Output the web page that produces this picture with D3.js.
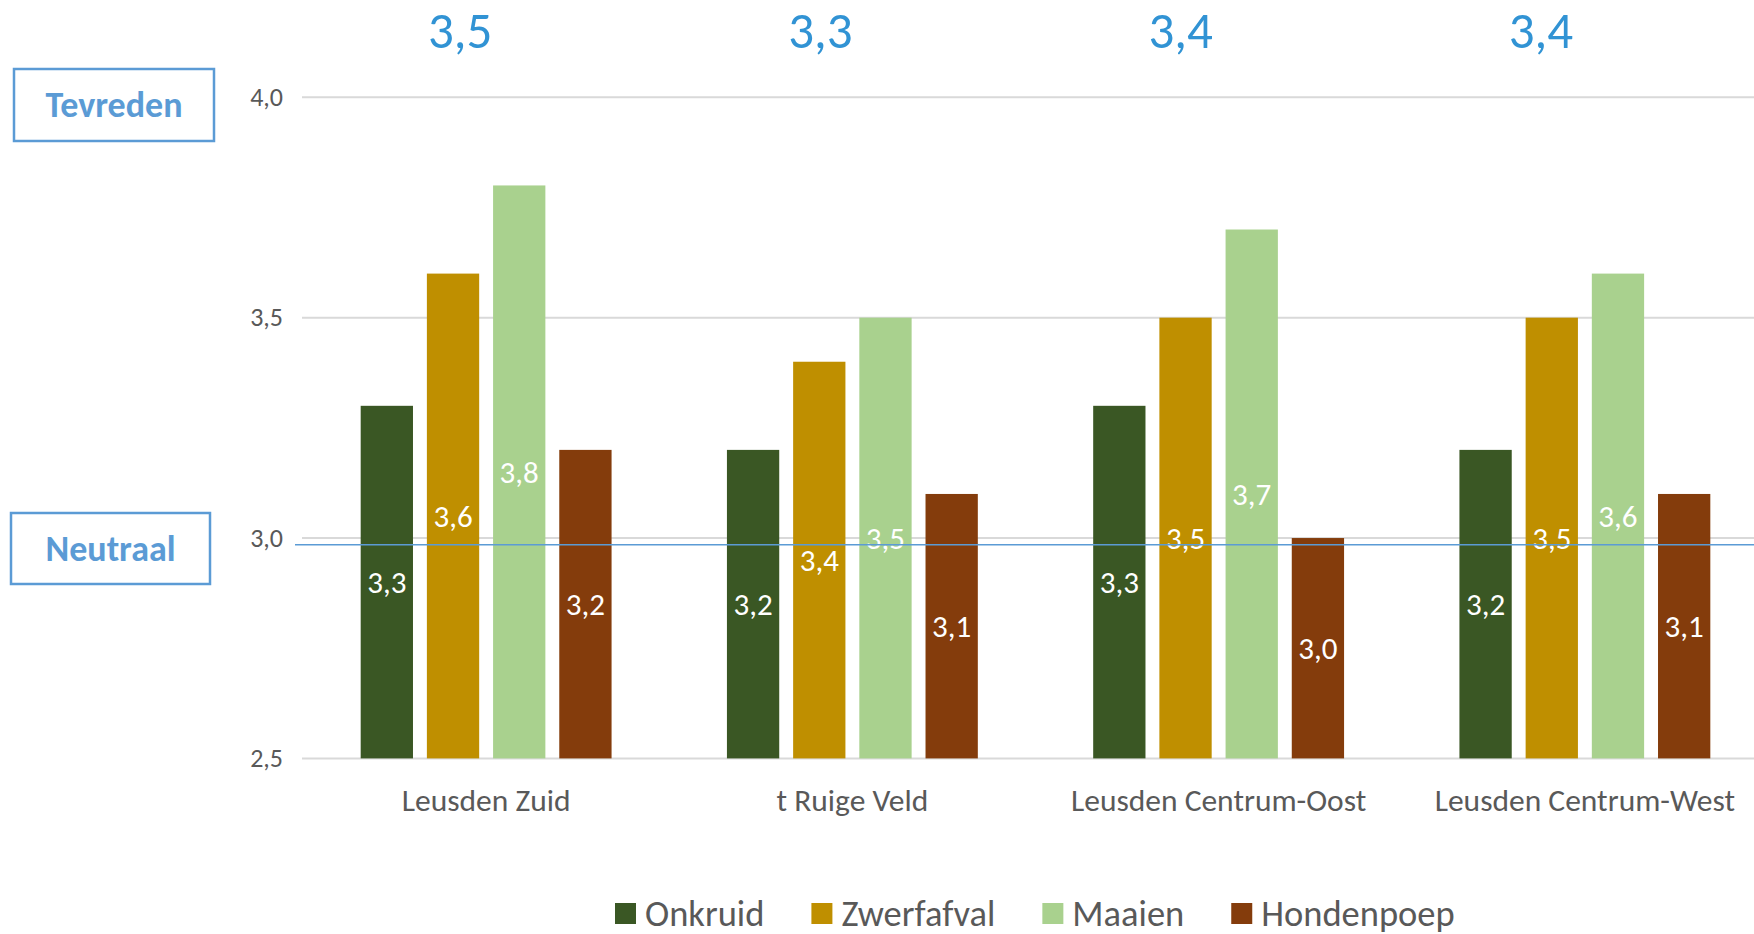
<!DOCTYPE html>
<html>
<head>
<meta charset="utf-8">
<script src="https://cdn.jsdelivr.net/npm/d3@7"></script>
<style>
  body { margin: 0; background: #fff; }
  svg { display: block; font-family: Carlito, Lato, "Open Sans", sans-serif; }
</style>
</head>
<body>
<div id="chart"></div>
<script>
// Data
const wijken = ["Leusden Zuid", "t Ruige Veld", "Leusden Centrum-Oost", "Leusden Centrum-West"];
const series = ["Onkruid", "Zwerfafval", "Maaien", "Hondenpoep"];
const onkruid = [3.3, 3.2, 3.3, 3.2];
const zwerfafval = [3.6, 3.4, 3.5, 3.5];
const maaien = [3.8, 3.5, 3.7, 3.6];
const hondenpoep = [3.2, 3.1, 3.0, 3.1];
const gemiddelde = [3.5, 3.3, 3.4, 3.4];
const yTicks = [2.5, 3.0, 3.5, 4.0];
const neutraalLijn = 2.985;

const colors = ["#3A5724", "#BF8F00", "#A9D18E", "#843C0C"];
const values = [onkruid, zwerfafval, maaien, hondenpoep];

const width = 1754;
const height = 934;

const fmt = v => v.toFixed(1).replace(".", ",");

// Scales
const x0 = d3.scaleBand()
    .domain(wijken)
    .range([303, 1768])
    .paddingInner(0.315)
    .paddingOuter(0.1575);

const x1 = d3.scaleBand()
    .domain(series)
    .range([0, x0.bandwidth()])
    .paddingInner(0.21);

const yScale = d3.scaleLinear()
    .domain([2.5, 4.0])
    .range([758.4, 97.3]);

const color = d3.scaleOrdinal().domain(series).range(colors);

const svg = d3.select("#chart")
    .append("svg")
    .attr("width", width)
    .attr("height", height);

// Gridlines
svg.append("g")
    .selectAll("line")
    .data(yTicks)
    .join("line")
    .attr("x1", 302)
    .attr("x2", width)
    .attr("y1", d => yScale(d))
    .attr("y2", d => yScale(d))
    .attr("stroke", "#D9D9D9")
    .attr("stroke-width", 2);

// Y axis labels
const yAxis = svg.append("g")
    .attr("transform", "translate(283,0)")
    .call(d3.axisLeft(yScale).tickValues(yTicks).tickSize(0).tickPadding(0).tickFormat(fmt));
yAxis.select(".domain").remove();
yAxis.selectAll("text")
    .style("font-family", "Carlito, Lato, sans-serif")
    .style("font-size", "26px")
    .attr("fill", "#595959");

// Bars
const rows = wijken.map((w, i) => ({ wijk: w, vals: series.map((s, j) => ({ key: s, value: values[j][i] })) }));

const groups = svg.append("g")
    .selectAll("g")
    .data(rows)
    .join("g")
    .attr("transform", d => `translate(${x0(d.wijk)},0)`);

groups.selectAll("rect")
    .data(d => d.vals)
    .join("rect")
    .attr("x", d => x1(d.key))
    .attr("width", x1.bandwidth())
    .attr("y", d => yScale(d.value))
    .attr("height", d => yScale(2.5) - yScale(d.value))
    .attr("fill", d => color(d.key));

// Neutral line
svg.append("line")
    .attr("x1", 295)
    .attr("x2", width)
    .attr("y1", yScale(neutraalLijn))
    .attr("y2", yScale(neutraalLijn))
    .attr("stroke", "#5B9BD5")
    .attr("stroke-width", 1.5);

// Data labels (white, centered in bar)
groups.selectAll("text")
    .data(d => d.vals)
    .join("text")
    .attr("x", d => x1(d.key) + x1.bandwidth() / 2)
    .attr("y", d => (yScale(d.value) + yScale(2.5)) / 2)
    .attr("text-anchor", "middle")
    .attr("dominant-baseline", "central")
    .attr("fill", "#fff")
    .style("font-size", "31px")
    .text(d => fmt(d.value));

// Category labels
svg.append("g")
    .selectAll("text")
    .data(wijken)
    .join("text")
    .attr("x", d => x0(d) + x0.bandwidth() / 2)
    .attr("y", 811)
    .attr("text-anchor", "middle")
    .attr("fill", "#595959")
    .style("font-size", "31.5px")
    .text(d => d);

// Average per wijk on top
svg.append("g")
    .selectAll("text")
    .data(wijken)
    .join("text")
    .attr("x", (d, i) => x0(d) + x0.bandwidth() / 2 - 26 - 6 * i)
    .attr("y", 48)
    .attr("text-anchor", "middle")
    .attr("fill", "#3193D4")
    .style("font-size", "51px")
    .text((d, i) => fmt(gemiddelde[i]));

// Side boxes
const boxes = [
    { label: "Tevreden", x: 14, y: 69, w: 200, h: 72 },
    { label: "Neutraal", x: 11, y: 513, w: 199, h: 71 }
];
const box = svg.append("g")
    .selectAll("g")
    .data(boxes)
    .join("g");
box.append("rect")
    .attr("x", d => d.x)
    .attr("y", d => d.y)
    .attr("width", d => d.w)
    .attr("height", d => d.h)
    .attr("fill", "#fff")
    .attr("stroke", "#5B9BD5")
    .attr("stroke-width", 2.5);
box.append("text")
    .attr("x", d => d.x + d.w / 2)
    .attr("y", d => d.y + d.h / 2)
    .attr("text-anchor", "middle")
    .attr("dominant-baseline", "central")
    .attr("fill", "#5B9BD5")
    .style("font-size", "36px")
    .style("font-weight", "bold")
    .text(d => d.label);

// Legend
const legend = svg.append("g").attr("transform", "translate(615,909)");
let lx = 0;
series.forEach((s, i) => {
    const g = legend.append("g").attr("transform", `translate(${lx},0)`);
    g.append("rect")
        .attr("x", 0)
        .attr("y", -6)
        .attr("width", 21)
        .attr("height", 21)
        .attr("fill", color(s));
    const t = g.append("text")
        .attr("x", 30)
        .attr("y", 4)
        .attr("dominant-baseline", "central")
        .attr("fill", "#595959")
        .style("font-size", "36.5px")
        .text(s);
    lx += 30 + t.node().getComputedTextLength() + 47;
});
</script>
</body>
</html>
